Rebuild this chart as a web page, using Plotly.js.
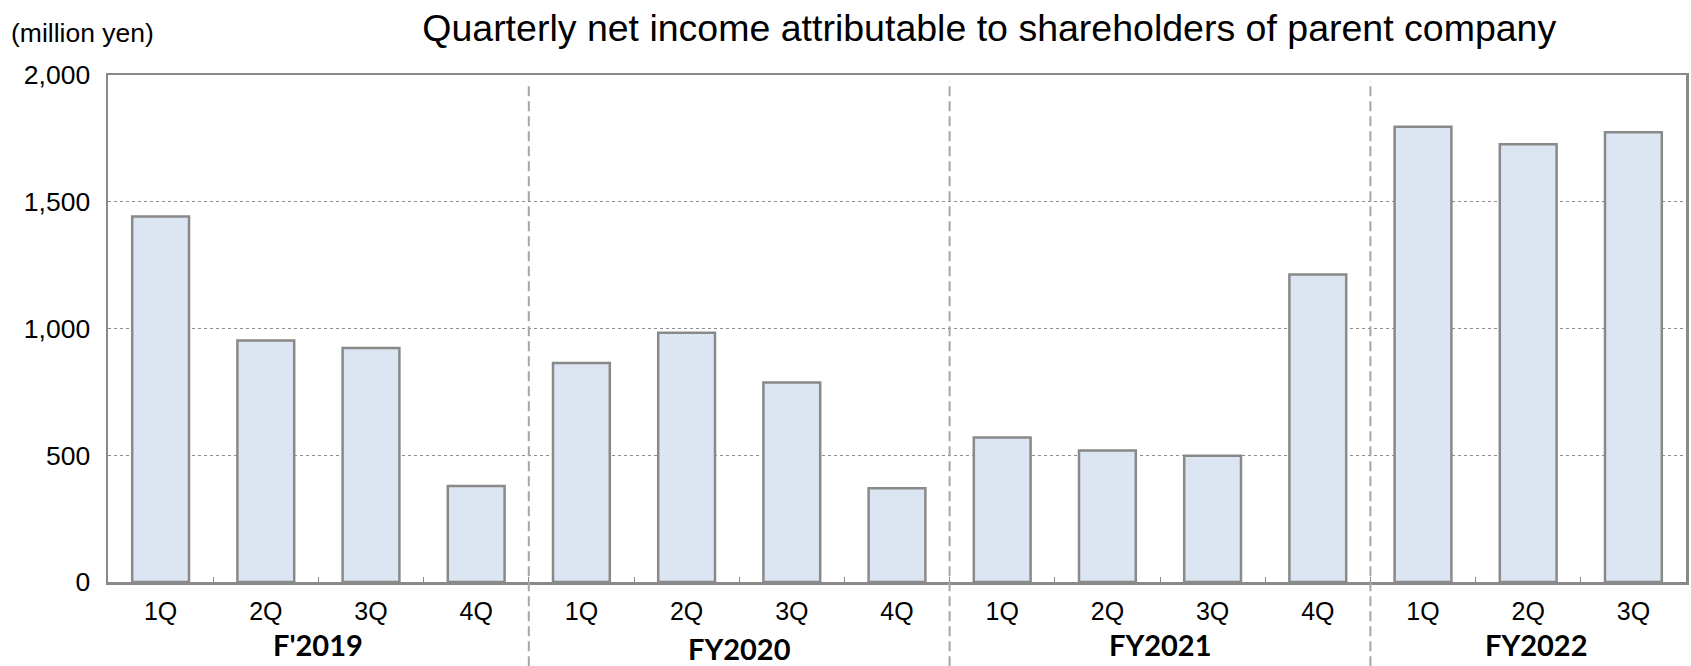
<!DOCTYPE html>
<html>
<head>
<meta charset="utf-8">
<script src="https://cdn.plot.ly/plotly-3.0.1.min.js"></script>
<style>
html,body{margin:0;padding:0;background:#fff;}
#chart{width:1691px;height:666px;}
</style>
</head>
<body>
<div id="chart"></div>
<script>
// Data
const fiscalYears = ["F'2019", "FY2020", "FY2021", "FY2022"];
const quarters = ["1Q", "2Q", "3Q", "4Q"];
const quartersPerYear = [4, 4, 4, 3];
const netIncome = [
  1442, 953, 923, 379,
  864, 983, 787, 370,
  570, 519, 498, 1213,
  1796, 1727, 1774
];
const yTickVals = [0, 500, 1000, 1500, 2000];
const yTickText = ["0", "500", "1,000", "1,500", "2,000"];
const titleText = "Quarterly net income attributable to shareholders of parent company";
const unitText = "(million yen)";

// Build category ids and labels
const xIds = [];
const xLabels = [];
const groupCenters = [];
const dividers = [];
let idx = 0;
fiscalYears.forEach((fy, g) => {
  const n = quartersPerYear[g];
  groupCenters.push(idx + (n - 1) / 2);
  for (let q = 0; q < n; q++) {
    xIds.push(fy + " " + quarters[q]);
    xLabels.push(quarters[q]);
    idx++;
  }
  if (g < fiscalYears.length - 1) dividers.push(idx - 0.5);
});

const frameColor = "#898989";

const trace = {
  type: "bar",
  x: xIds,
  y: netIncome,
  width: 0.54,
  marker: {color: "#dce6f2", line: {color: frameColor, width: 2.5}},
  hoverinfo: "x+y"
};

const shapes = dividers.map(d => ({
  type: "line", xref: "x", yref: "paper",
  x0: d, x1: d, y0: -0.166, y1: 0.988,
  line: {color: "#a6a6a6", width: 2, dash: "10px,5px"},
  layer: "above"
}));

const annotations = fiscalYears.map((fy, g) => ({
  text: "<b>" + fy + "</b>",
  xref: "x", yref: "paper",
  x: groupCenters[g] + (g === 3 ? 0.08 : 0), y: g === 1 ? -0.132 : -0.124,
  xanchor: "center", yanchor: "middle",
  showarrow: false,
  font: {family: "Lato, 'Open Sans', sans-serif", size: 29, color: "#000"}
}));
annotations.push({
  text: unitText,
  xref: "paper", yref: "paper",
  x: -0.0627, y: 1.083,
  xanchor: "left", yanchor: "middle",
  showarrow: false,
  font: {family: "'Liberation Sans', Arial, sans-serif", size: 26.5, color: "#000"}
});

const layout = {
  width: 1691, height: 666,
  margin: {l: 108, r: 5, t: 75, b: 84},
  paper_bgcolor: "#fff", plot_bgcolor: "#fff",
  showlegend: false,
  bargap: 0.46,
  font: {family: "'Liberation Sans', Arial, sans-serif", size: 24, color: "#000"},
  title: {
    text: titleText,
    x: 0.585, xref: "container", xanchor: "center",
    y: 0.958, yref: "container", yanchor: "middle",
    font: {family: "'Liberation Sans', Arial, sans-serif", size: 37.5, color: "#000"}
  },
  xaxis: {
    type: "category",
    tickvals: xIds, ticktext: xLabels,
    showline: true, mirror: true, linecolor: frameColor, linewidth: 2.5,
    ticks: "inside", tickson: "boundaries", ticklen: 5, tickcolor: frameColor, tickwidth: 1,
    showgrid: false, zeroline: false,
    tickfont: {size: 25},
    ticklabelstandoff: 5,
    fixedrange: true
  },
  yaxis: {
    range: [0, 2000],
    tickvals: yTickVals, ticktext: yTickText,
    showline: true, mirror: true, linecolor: frameColor, linewidth: 2.5,
    ticks: "", showgrid: true, gridcolor: "#8c8c8c", gridwidth: 1, griddash: "dot",
    zeroline: false,
    tickfont: {size: 26.5},
    ticklabelstandoff: 10,
    fixedrange: true
  },
  shapes: shapes,
  annotations: annotations
};

Plotly.newPlot("chart", [trace], layout, {displayModeBar: false, staticPlot: true});
</script>
</body>
</html>
